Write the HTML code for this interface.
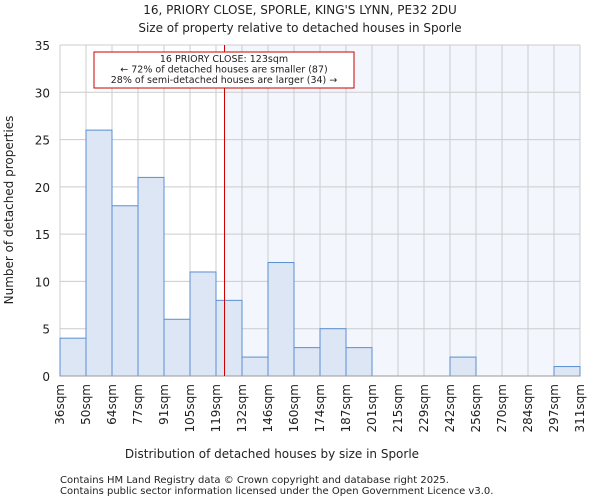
<!DOCTYPE html>
<html><head><meta charset="utf-8"><style>
body{margin:0;background:#fff;font-family:"DejaVu Sans","Liberation Sans",sans-serif;}
svg text{font-family:"DejaVu Sans","Liberation Sans",sans-serif;fill:#222;}
</style></head><body>
<svg id="chart" width="600" height="500">
<text x="300" y="14" text-anchor="middle" font-size="12">16, PRIORY CLOSE, SPORLE, KING'S LYNN, PE32 2DU</text>
<text x="300" y="32" text-anchor="middle" font-size="12">Size of property relative to detached houses in Sporle</text>
<g id="plot"></g>
<text x="272" y="458" text-anchor="middle" font-size="12">Distribution of detached houses by size in Sporle</text>
<text transform="translate(13,210) rotate(-90)" text-anchor="middle" font-size="12">Number of detached properties</text>
<text x="60" y="483" font-size="10" fill="#444">Contains HM Land Registry data © Crown copyright and database right 2025.</text>
<text x="60" y="494" font-size="10" fill="#444">Contains public sector information licensed under the Open Government Licence v3.0.</text>
</svg>
<script>
const categories=["36sqm","50sqm","64sqm","77sqm","91sqm","105sqm","119sqm","132sqm","146sqm","160sqm","174sqm","187sqm","201sqm","215sqm","229sqm","242sqm","256sqm","270sqm","284sqm","297sqm","311sqm"];
const counts=[4,26,18,21,6,11,8,2,12,3,5,3,0,0,0,2,0,0,0,1];
const yTicks=[0,5,10,15,20,25,30,35];
const binStart=36, binWidth=13.75, propertySize=123;
const X0=60,X1=580,Y0=376,Y1=45,YMAX=35;
const NS="http://www.w3.org/2000/svg";
const g=document.getElementById('plot');
const bw=(X1-X0)/counts.length;
const xs=i=>X0+i*bw;
const ys=v=>Y0-(v/YMAX)*(Y0-Y1);
const xv=v=>X0+(v-binStart)/binWidth*bw;
function mk(t,a){const e=document.createElementNS(NS,t);for(const k in a)e.setAttribute(k,a[k]);g.appendChild(e);return e;}
const lx=xv(propertySize);
const sh=mk('rect',{x:lx,y:Y1,width:X1-lx,height:Y0-Y1,fill:'#f3f6fd'});


for(let i=0;i<=counts.length;i++){const l=mk('line',{x1:xs(i),x2:xs(i),y1:Y1,y2:Y0,stroke:'#ccc'});

}
yTicks.forEach(t=>{const l=mk('line',{x1:X0,x2:X1,y1:ys(t),y2:ys(t),stroke:'#ccc'});


const tx=mk('text',{x:X0-10,y:ys(t)+5,'text-anchor':'end','font-size':'12'});tx.textContent=t;

});
counts.forEach((c,i)=>{if(c<=0)return;const r=mk('rect',{x:xs(i),y:ys(c),width:bw,height:Y0-ys(c),fill:'#dce6f5',stroke:'#5b8fd0','stroke-width':1});

});
categories.forEach((c,i)=>{const tx=mk('text',{transform:`translate(${xs(i)+4},${Y0+8}) rotate(-90)`,'text-anchor':'end','font-size':'12'});tx.textContent=c;

});
const ax=mk('line',{x1:X0,x2:X1,y1:Y0,y2:Y0,stroke:'#999'});


const ml=mk('line',{x1:lx,x2:lx,y1:Y1,y2:Y0,stroke:'#c00','stroke-width':1});


const box=mk('rect',{x:94,y:52,width:260,height:36,fill:'#fff',stroke:'#c00'});


["16 PRIORY CLOSE: 123sqm","← 72% of detached houses are smaller (87)","28% of semi-detached houses are larger (34) →"].forEach((s,i)=>{const tx=mk('text',{x:224,y:62+i*10.5,'text-anchor':'middle','font-size':'9.5'});tx.textContent=s;

});
</script>
</body></html>
